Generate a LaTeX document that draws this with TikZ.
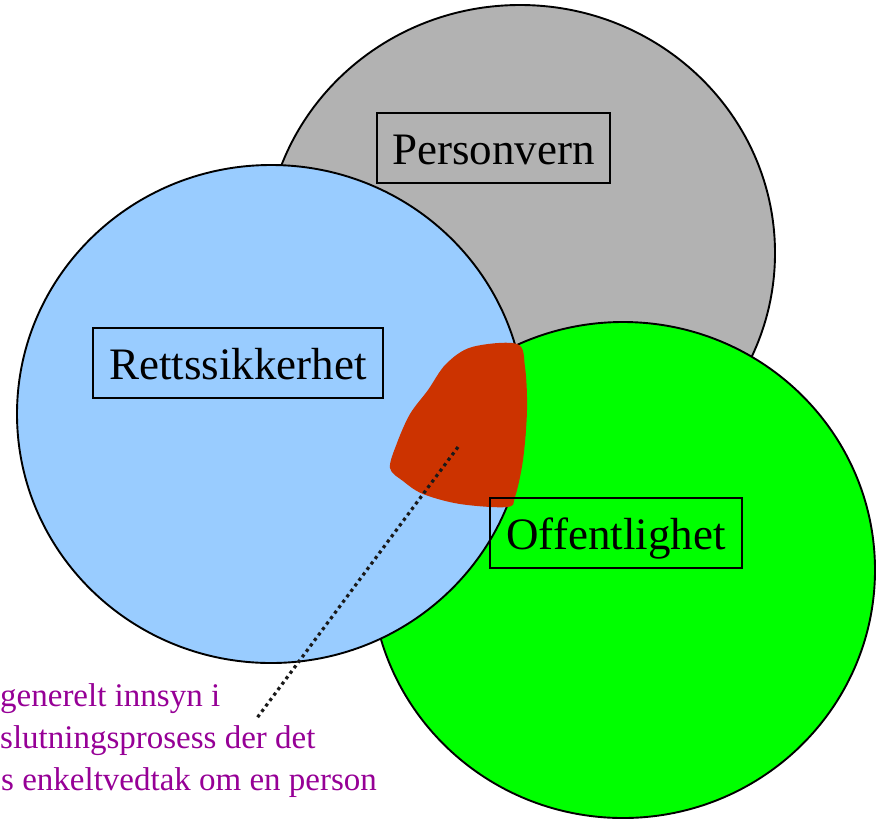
\documentclass[tikz,border=0pt]{standalone}
\usepackage{fontspec}
\setmainfont{Liberation Serif}
\definecolor{grayfill}{RGB}{178,178,178}
\definecolor{bluefill}{RGB}{153,204,255}
\definecolor{greenfill}{RGB}{0,255,0}
\definecolor{redblob}{RGB}{204,51,0}
\definecolor{purpletext}{RGB}{150,0,150}
\begin{document}
\begin{tikzpicture}[x=1pt,y=-1pt,
  circ/.style={draw=black,line width=1.9pt},
  labelbox/.style={draw=black,line width=1.9pt,inner sep=0pt,minimum height=70pt,
    text height=36pt,text depth=4pt,font=\fontsize{45}{50}\selectfont},
  note/.style={anchor=base west,inner sep=0pt,text=purpletext,font=\fontsize{33}{40}\selectfont},
  pointer/.style={line width=3.2pt,dash pattern=on 3.2pt off 3.6pt,draw=black!90}]
\useasboundingbox (0,0) rectangle (877,820);
% circles
\draw[circ,fill=grayfill] (520,253) ellipse [x radius=255pt,y radius=248pt];
\draw[circ,fill=greenfill] (623,570) ellipse [x radius=252pt,y radius=248pt];
\draw[circ,fill=bluefill] (271,414) ellipse [x radius=254pt,y radius=249pt];
% red blob
\fill[redblob] plot[smooth cycle,tension=0.55] coordinates {
  (517,344) (472,347) (446,364) (428,390) (410,414) (397,443) (390,468)
  (403,481) (423,494) (460,504) (507,507) (515,497) (523,460) (527,410)
  (525,367)};
% label boxes
\node[labelbox,minimum width=233pt] (pv) at (493.5,148) {Personvern};
\node[labelbox,minimum width=290pt] (rs) at (238,363) {Rettssikkerhet};
\node[labelbox,minimum width=252pt] (of) at (616,533) {Offentlighet};
% note text
\node[note] (n1) at (0,706) {generelt innsyn i};
\node[note] (n2) at (0,748) {slutningsprosess der det};
\node[note] (n3) at (1,790) {s enkeltvedtak om en person};
% pointer
\coordinate (blobpt) at (458,447);
\coordinate (noteend) at (257,718);
\draw[pointer] (blobpt) -- (noteend);
\end{tikzpicture}
\end{document}
